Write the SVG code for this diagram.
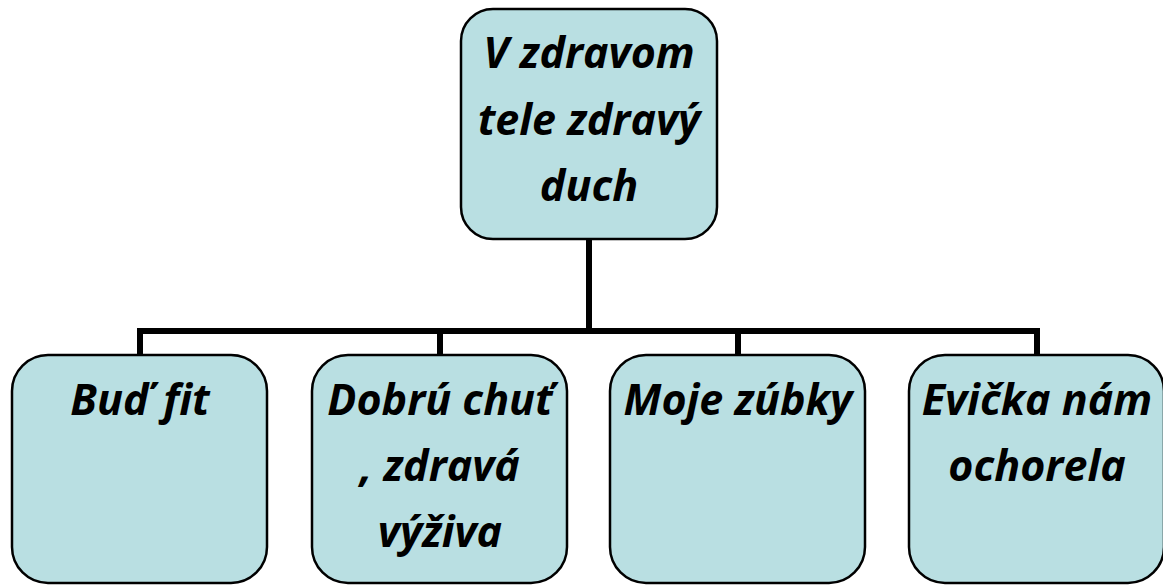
<svg xmlns="http://www.w3.org/2000/svg" width="1163" height="585" viewBox="0 0 1163 585">
<style>
.box{fill:#B9DFE2;stroke:#000;stroke-width:2.5}
.lbl{font-family:"Open Sans",Lato,"Liberation Sans",sans-serif;font-weight:bold;font-style:italic;font-size:43px;fill:#000;text-anchor:middle}
.con{fill:none;stroke:#000;stroke-width:6}
</style>
<rect width="1163" height="585" fill="#fff"/>
<g id="connectors">
<path class="con" d="M589 239V331M140 355V331H1037V355M440 331V355M738 331V355"/>
</g>
<g id="root">
<rect class="box" x="461" y="9" width="256" height="230" rx="32"/>
<text class="lbl" x="589" y="68">V zdravom</text>
<text class="lbl" x="589" y="135">tele zdravý</text>
<text class="lbl" x="589" y="201">duch</text>
</g>
<g id="n1">
<rect class="box" x="12" y="355" width="255" height="228" rx="36"/>
<text class="lbl" x="140" y="415">Buď fit</text>
</g>
<g id="n2">
<rect class="box" x="312" y="355" width="255" height="228" rx="36"/>
<text class="lbl" x="440" y="415">Dobrú chuť</text>
<text class="lbl" x="440" y="481">, zdravá</text>
<text class="lbl" x="440" y="547">výživa</text>
</g>
<g id="n3">
<rect class="box" x="610" y="355" width="255" height="228" rx="36"/>
<text class="lbl" x="738" y="415">Moje zúbky</text>
</g>
<g id="n4">
<rect class="box" x="909" y="355" width="255" height="228" rx="36"/>
<text class="lbl" x="1037" y="415">Evička nám</text>
<text class="lbl" x="1037" y="481">ochorela</text>
</g>
</svg>
